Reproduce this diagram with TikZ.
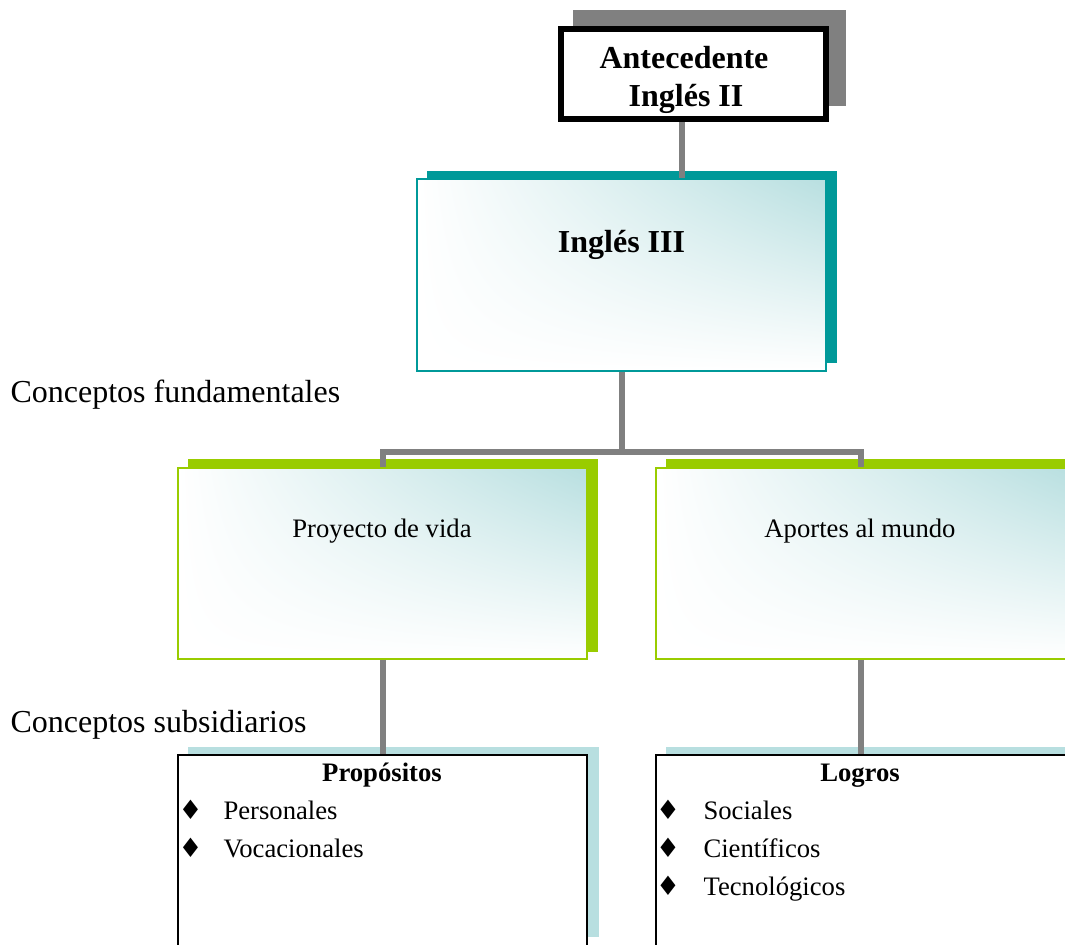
\documentclass[tikz,border=0pt]{standalone}
\usepackage{fontspec}
\setmainfont{Liberation Serif}
\newfontfamily\symf{DejaVu Sans}
\usetikzlibrary{shadings}
\definecolor{tealc}{HTML}{009999}
\definecolor{greenc}{HTML}{99CC00}
\definecolor{lblue}{HTML}{B8DFE0}
\definecolor{grayc}{HTML}{808080}
\begin{document}
\begin{tikzpicture}[x=0.375pt,y=-0.375pt,
  conn/.style={draw=grayc, line width=2.25pt},
  boxshade/.style={shade, upper right=lblue, upper left=white, lower left=white, lower right=white},
  mainbox/.style={rectangle, inner sep=0pt, minimum width=153.4pt},
  lbl/.style={inner sep=0pt, anchor=base},
  big/.style={font=\fontsize{12}{14}\selectfont},
  small/.style={font=\fontsize{10}{12}\selectfont},
  bul/.style={inner sep=0pt, anchor=base, font=\symf\fontsize{10}{12}\selectfont},
  item/.style={inner sep=0pt, anchor=base west, font=\fontsize{10}{12}\selectfont}
]
\useasboundingbox (0,0) rectangle (1065,944);
\clip (0,0) rectangle (1065,944);

% shadows
\fill[grayc] (573,10) rectangle (846,106);
\fill[tealc] (427,171) rectangle (837,363);
\fill[greenc] (188,459) rectangle (598,652);
\fill[greenc] (666,459) rectangle (1080,652);
\fill[lblue] (188,747) rectangle (599,937);
\fill[lblue] (666,747) rectangle (1080,937);

% main boxes
\node[rectangle, inner sep=0pt, draw=black, fill=white, line width=2.3pt,
      minimum width=99.4pt, minimum height=33.75pt] (ante) at (693.5,74) {};
\node[mainbox, draw=tealc, line width=0.75pt, boxshade, minimum height=72pt] (ing3) at (621.5,275) {};
\node[mainbox, draw=greenc, line width=0.75pt, boxshade, minimum height=71.6pt] (pv) at (382.5,563.5) {};
\node[mainbox, draw=greenc, line width=0.75pt, boxshade, minimum width=156pt, minimum height=71.6pt] (am) at (864,563.5) {};
\node[mainbox, draw=black, line width=0.75pt, fill=white, minimum height=72pt] (prop) at (382.5,851) {};
\node[mainbox, draw=black, line width=0.75pt, fill=white, minimum width=156pt, minimum height=72pt] (logr) at (864,851) {};

% connectors
\coordinate (c1) at ([xshift=-4.3pt]ante.south);
\draw[conn] (c1) -- (c1 |- ing3.north);
\draw[conn] (ing3.south) -- ++(0,80) coordinate (j);
\coordinate (r1) at ([xshift=-1.3pt]am.north);
\coordinate (r2) at ([xshift=-1.3pt]am.south);
\draw[conn, line join=miter] (pv.north) -- (pv.north |- j) -- (r1 |- j) -- (r1);
\draw[conn] (pv.south) -- (prop.north);
\draw[conn] (r2) -- (r2 |- logr.north);

% texts
\node[lbl, font=\bfseries\fontsize{12}{14}\selectfont] (t1) at (684,68) {Antecedente};
\node[lbl, font=\bfseries\fontsize{12}{14}\selectfont] (t2) at (686,106) {Inglés II};
\node[lbl, font=\bfseries\fontsize{12}{14}\selectfont] (t3) at (621.5,252) {Inglés III};
\node[lbl, anchor=base west, big] (cf) at (10,402) {Conceptos fundamentales};
\node[lbl, anchor=base west, big] (cs) at (10,732) {Conceptos subsidiarios};
\node[lbl, small] (tpv) at (382,537) {Proyecto de vida};
\node[lbl, small] (tam) at (860,537) {Aportes al mundo};
\node[lbl, font=\bfseries\fontsize{10}{12}\selectfont] (tprop) at (382,781) {Propósitos};
\node[lbl, font=\bfseries\fontsize{10}{12}\selectfont] (tlog) at (860,781) {Logros};

\node[bul] (b1) at (190.5,819) {♦};
\node[item] (i1) at (223,819) {Personales};
\node[bul] (b2) at (190.5,857) {♦};
\node[item] (i2) at (223,857) {Vocacionales};

\node[bul] (b3) at (668,819) {♦};
\node[item] (i3) at (703,819) {Sociales};
\node[bul] (b4) at (668,857) {♦};
\node[item] (i4) at (703,857) {Científicos};
\node[bul] (b5) at (668,895) {♦};
\node[item] (i5) at (703,895) {Tecnológicos};
\end{tikzpicture}
\end{document}
